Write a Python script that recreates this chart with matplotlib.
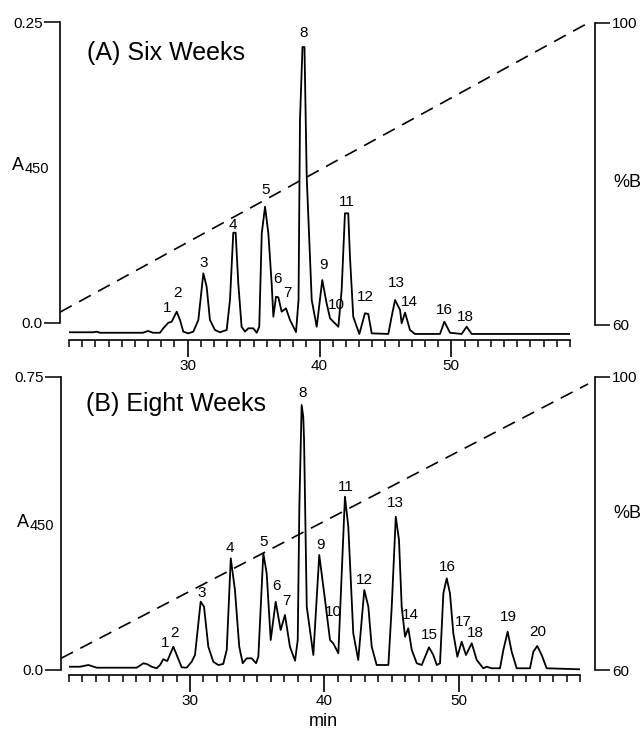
import matplotlib
matplotlib.use("Agg")
import matplotlib.pyplot as plt

plt.rcParams['font.family'] = ['Liberation Sans', 'DejaVu Sans']

# ---------------- data: (A) Six Weeks ----------------
six_time = [21.02, 22.82, 23.10, 23.35, 26.61, 26.99, 27.37, 27.90, 28.15, 28.53,
            28.79, 29.17, 29.42, 29.67, 30.05, 30.43, 30.81, 31.19, 31.44, 31.69,
            32.07, 32.45, 32.96, 33.21, 33.46, 33.64, 33.84, 34.09, 34.35, 34.60,
            34.98, 35.24, 35.43, 35.62, 35.87, 36.12, 36.37, 36.50, 36.70, 36.88,
            37.13, 37.46, 37.76, 38.22, 38.41, 38.52, 38.71, 38.86, 39.03, 39.41,
            39.79, 40.21, 40.54, 40.80, 41.05, 41.43, 41.68, 41.93, 42.18, 42.31,
            42.56, 43.02, 43.45, 43.70, 43.96, 45.22, 45.47, 45.73, 46.11, 46.23,
            46.49, 46.86, 47.24, 49.14, 49.47, 49.90, 50.78, 51.16, 51.54, 59.00]
six_A450 = [-0.0077, -0.0077, -0.0072, -0.0081, -0.0081, -0.0066, -0.0081, -0.0081, -0.0044, 0.0002,
            0.0011, 0.0094, 0.0025, -0.0072, -0.0086, -0.0072, 0.0025, 0.0413, 0.0302, 0.0025,
            -0.0058, -0.0077, -0.0058, 0.0191, 0.0750, 0.0750, 0.0330, -0.0031, -0.0072, -0.0044,
            -0.0044, -0.0081, -0.0031, 0.0745, 0.0966, 0.0745, 0.0330, 0.0052, 0.0218, 0.0213,
            0.0094, 0.0122, 0.0025, -0.0075, 0.0191, 0.1686, 0.2292, 0.2292, 0.1213, 0.0191,
            -0.0031, 0.0357, 0.0164, 0.0039, 0.0011, -0.0031, 0.0274, 0.0911, 0.0911, 0.0551,
            0.0052, -0.0091, 0.0081, 0.0075, -0.0086, -0.0091, 0.0052, 0.0191, 0.0108, -0.0002,
            0.0086, -0.0058, -0.0091, -0.0091, 0.0011, -0.0081, -0.0091, -0.0031, -0.0091, -0.0091]
six_peak_ids = ['1', '2', '3', '4', '5', '6', '7', '8', '9', '10', '11', '12', '13', '14', '16', '18']
six_peak_time = [28.41, 29.21, 31.19, 33.46, 35.92, 36.83, 37.56, 38.77, 40.29, 41.25,
                 42.06, 43.50, 45.86, 46.81, 49.44, 51.09]
six_peak_A450 = [0.0125, 0.0249, 0.0498, 0.0814, 0.1105, 0.0365, 0.0249, 0.2409, 0.0482, 0.0150,
                 0.1005, 0.0216, 0.0332, 0.0174, 0.0108, 0.0050]
six_grad_time = [20.32, 60.37]
six_grad_B = [61.7, 100.0]

# ---------------- data: (B) Eight Weeks ----------------
eight_time = [21.02, 21.82, 22.44, 23.06, 26.03, 26.53, 26.78, 27.15, 27.52, 27.77,
              28.01, 28.31, 28.76, 29.01, 29.38, 29.75, 30.12, 30.37, 30.79, 31.04,
              31.36, 31.73, 32.10, 32.47, 32.73, 33.03, 33.34, 33.66, 33.92, 34.21,
              34.59, 34.91, 35.08, 35.45, 35.70, 36.00, 36.37, 36.74, 37.06, 37.43,
              37.81, 38.01, 38.13, 38.30, 38.42, 38.48, 38.68, 39.17, 39.61, 40.04,
              40.41, 40.65, 41.03, 41.28, 41.52, 41.77, 42.14, 42.51, 42.96, 43.26,
              43.51, 43.88, 44.75, 45.00, 45.30, 45.54, 45.74, 45.99, 46.23, 46.49,
              46.86, 47.23, 47.77, 48.09, 48.35, 48.59, 48.84, 49.09, 49.33, 49.58,
              49.88, 50.20, 50.52, 50.95, 51.32, 51.81, 52.06, 52.43, 53.05, 53.30,
              53.62, 53.92, 54.29, 55.28, 55.53, 55.82, 56.15, 56.52, 59.00]
eight_A450 = [0.0084, 0.0084, 0.0128, 0.0059, 0.0059, 0.0171, 0.0154, 0.0084, 0.0044, 0.0128,
              0.0274, 0.0230, 0.0596, 0.0384, 0.0069, 0.0059, 0.0212, 0.0384, 0.1748, 0.1620,
              0.0596, 0.0212, 0.0128, 0.0154, 0.0512, 0.2859, 0.2048, 0.0596, 0.0172, 0.0299,
              0.0299, 0.0172, 0.0340, 0.2987, 0.2475, 0.0768, 0.1748, 0.1024, 0.1408, 0.0596,
              0.0238, 0.0768, 0.4180, 0.6783, 0.6484, 0.5887, 0.1620, 0.0384, 0.2944, 0.1792,
              0.0768, 0.0683, 0.0427, 0.2475, 0.4436, 0.3668, 0.0939, 0.0256, 0.2048, 0.1620,
              0.0596, 0.0128, 0.0128, 0.1620, 0.3924, 0.3328, 0.1620, 0.0852, 0.1067, 0.0512,
              0.0172, 0.0128, 0.0581, 0.0384, 0.0128, 0.0172, 0.1963, 0.2347, 0.1963, 0.0939,
              0.0340, 0.0724, 0.0384, 0.0683, 0.0256, 0.0044, 0.0084, 0.0044, 0.0044, 0.0512,
              0.0980, 0.0468, 0.0044, 0.0044, 0.0468, 0.0614, 0.0384, 0.0044, 0.0018]
eight_peak_ids = ['1', '2', '3', '4', '5', '6', '7', '8', '9', '10',
                  '11', '12', '13', '14', '15', '16', '17', '18', '19', '20']
eight_peak_time = [28.14, 28.88, 30.87, 32.97, 35.45, 36.45, 37.14, 38.38, 39.72, 40.66,
                   41.58, 42.94, 45.30, 46.36, 47.79, 49.16, 50.32, 51.24, 53.67, 55.83]
eight_peak_A450 = [0.0683, 0.0955, 0.1963, 0.3115, 0.3284, 0.2150, 0.1766, 0.7098, 0.3200, 0.1492,
                   0.4692, 0.2304, 0.4267, 0.1408, 0.0896, 0.2645, 0.1237, 0.0939, 0.1365, 0.0981]
eight_grad_time = [20.41, 59.60]
eight_grad_B = [61.6, 99.05]

x_major = [30, 40, 50]
x_minor = list(range(21, 60))

# ---------------- figure ----------------
W, H = 643, 732
fig = plt.figure(figsize=(W / 100, H / 100), dpi=100)


def make_panel(box, ylim, ytick_labels, blim, left_out, right_out,
               t, a, ids, pt, pa, gt, gb, title, title_xy, alabel_xy, pb_xy):
    left, top, right, bottom = box
    ax = fig.add_axes([left / W, 1 - bottom / H, (right - left) / W, (bottom - top) / H])
    ax.set_xlim(21, 59)
    ax.set_ylim(*ylim)
    ax.patch.set_alpha(0)
    for s in ['top', 'right']:
        ax.spines[s].set_visible(False)
    ax.spines['left'].set_position(('outward', left_out * 0.72))
    ax.spines['left'].set_bounds(0, ytick_labels[1][0])
    for s in ['left', 'bottom']:
        ax.spines[s].set_linewidth(1.2)
    ax.set_yticks([v for v, _ in ytick_labels])
    ax.set_yticklabels([l for _, l in ytick_labels])
    ax.tick_params(axis='y', direction='out', length=11.5, width=1.1, pad=1, labelsize=11)
    ax.set_xticks(x_major)
    ax.set_xticks(x_minor, minor=True)
    ax.tick_params(axis='x', which='major', direction='out', length=12, width=1.2, pad=2, labelsize=11)
    ax.tick_params(axis='x', which='minor', direction='out', length=5, width=1.1)

    ax.plot(t, a, color='black', lw=1.3, solid_joinstyle='round')
    for lab, x, y in zip(ids, pt, pa):
        ax.text(x, y, lab, ha='center', va='center', fontsize=11)

    ax2 = ax.twinx()
    ax2.set_ylim(*blim)
    for s in ['top', 'left', 'bottom']:
        ax2.spines[s].set_visible(False)
    ax2.spines['right'].set_position(('outward', right_out * 0.72))
    ax2.spines['right'].set_bounds(60, 100)
    ax2.spines['right'].set_linewidth(1.2)
    ax2.set_yticks([60, 100])
    ax2.set_yticklabels(['60', '100'])
    ax2.tick_params(axis='y', direction='out', length=11, width=1.1, pad=1.5, labelsize=11)
    ax2.plot(gt, gb, color='black', lw=1.2, ls=(0, (8, 5)), clip_on=False)

    fig.text(title_xy[0] / W, 1 - title_xy[1] / H, title, ha='left', va='baseline', fontsize=18)
    fig.text(alabel_xy[0] / W, 1 - alabel_xy[1] / H, 'A', ha='left', va='baseline', fontsize=13)
    fig.text((alabel_xy[0] + 13) / W, 1 - (alabel_xy[1] + 3) / H, '450', ha='left', va='baseline',
             fontsize=10.5)
    fig.text(pb_xy[0] / W, 1 - pb_xy[1] / H, '%B', ha='left', va='baseline', fontsize=13)
    return ax


make_panel((69, 22, 570, 340), (-0.01412, 0.25), [(0.0, '0.0'), (0.25, '0.25')],
           (58.013, 100.132), 9, 25,
           six_time, six_A450, six_peak_ids, six_peak_time, six_peak_A450,
           six_grad_time, six_grad_B, '(A) Six Weeks', (87, 60), (12, 170), (613, 187))

axb = make_panel((69, 377, 580, 675), (-0.0128, 0.75), [(0.0, '0.0'), (0.75, '0.75')],
                 (59.322, 99.729), 8, 15,
                 eight_time, eight_A450, eight_peak_ids, eight_peak_time, eight_peak_A450,
                 eight_grad_time, eight_grad_B, '(B) Eight Weeks', (86, 411), (17, 527), (613, 518))

fig.text(323 / W, 1 - 721 / H, 'min', ha='center', va='center', fontsize=13)

fig.savefig('out.png', dpi=100)
